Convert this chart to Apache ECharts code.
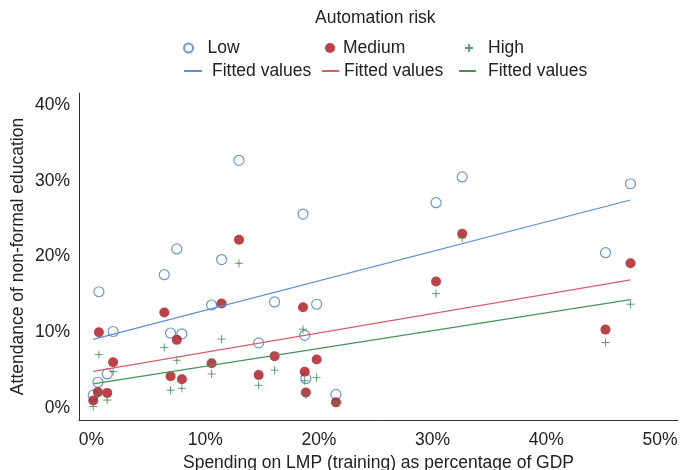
<!DOCTYPE html>
<html>
<head>
<meta charset="utf-8">
<script src="https://cdn.jsdelivr.net/npm/echarts@6/dist/echarts.min.js"></script>
<style>
  html, body { margin: 0; padding: 0; background: #fff; }
  #chart { width: 681px; height: 470px; }
</style>
</head>
<body>
<div id="chart"></div>
<script>
// spending on LMP (training), % of GDP - one value per country
const spending = [0.15, 0.56, 0.65, 1.38, 1.9, 6.4, 6.95, 7.5, 7.95, 10.56, 11.44, 12.97,
    14.7, 16.1, 18.6, 18.75, 18.85, 19.8, 21.5, 30.3, 32.6, 45.2, 47.4];
// attendance of non-formal education, % by automation risk
const lowRisk = [1.7, 3.4, 15.35, 4.5, 10.1, 17.6, 9.9, 21.0, 9.8, 13.6, 19.6, 32.7,
    8.6, 14.0, 25.6, 9.6, 3.9, 13.7, 1.8, 27.1, 30.5, 20.5, 29.6];
const mediumRisk = [1.0, 2.1, 10.0, 2.0, 6.05, 12.6, 4.2, 9.0, 3.8, 5.9, 13.8, 22.2,
    4.35, 6.85, 13.3, 4.8, 2.05, 6.4, 0.75, 16.7, 23.0, 10.35, 19.1];
const highRisk = [0.2, 1.9, 7.05, 1.05, 4.8, 8.0, 2.35, 6.3, 2.6, 4.5, 9.1, 19.1,
    3.0, 5.0, 10.4, 3.6, 1.7, 4.0, 0.7, 15.1, 22.45, 8.65, 13.7];
const xTicks = [0, 10, 20, 30, 40, 50];
const yTicks = [0, 10, 20, 30, 40];

const FONT = 'Liberation Sans, Arial, sans-serif';
const BLUE = '#4580c8';
const RED = '#ab111c';
const GREEN = '#38884a';
const PLUS = 'path://M5 0L5 10M0 5L10 5';

function points(ys) {
    return spending.map((x, i) => [x, ys[i]]);
}

// least squares fitted values, drawn between smallest and largest x
function fitted(ys) {
    const n = spending.length;
    const mx = spending.reduce((a, b) => a + b, 0) / n;
    const my = ys.reduce((a, b) => a + b, 0) / n;
    let sxy = 0, sxx = 0;
    spending.forEach((x, i) => {
        sxy += (x - mx) * (ys[i] - my);
        sxx += (x - mx) * (x - mx);
    });
    const b = sxy / sxx;
    const a = my - b * mx;
    const x0 = Math.min(...spending);
    const x1 = Math.max(...spending);
    return [[x0, a + b * x0], [x1, a + b * x1]];
}

function legendItem(name, left, top, w, h, pad) {
    const isFit = name.indexOf('fit') === 0;
    const item = {
        data: [name],
        left: left,
        top: top,
        padding: 0,
        itemWidth: w,
        itemHeight: h,
        selectedMode: false,
        formatter: n => isFit ? 'Fitted values' : n,
        textStyle: {
            fontFamily: FONT,
            fontSize: 17.5,
            color: '#222',
            lineHeight: 20,
            padding: [0, 0, 0, pad]
        }
    };
    if (isFit) {
        item.itemStyle = { opacity: 0 };
    }
    return item;
}

function fitSeries(name, ys, color) {
    return {
        name: name,
        type: 'line',
        symbol: 'none',
        itemStyle: { color: color },
        lineStyle: { color: color, width: 1.2 },
        data: fitted(ys)
    };
}

const chart = echarts.init(document.getElementById('chart'));
chart.setOption({
    animation: false,
    title: {
        text: 'Automation risk',
        left: 310,
        top: 4,
        textStyle: { fontFamily: FONT, fontSize: 17.5, fontWeight: 'normal', color: '#222' }
    },
    legend: [
        legendItem('Low', 183, 38, 18, 9, 5),
        legendItem('Medium', 325, 38, 10, 10, 3),
        legendItem('High', 464, 38, 8, 8, 10),
        legendItem('fitLow', 183, 61, 18, 8, 5),
        legendItem('fitMedium', 321, 61, 17, 8, 0),
        legendItem('fitHigh', 458, 61, 17, 8, 7)
    ],
    grid: { left: 79, right: 3, top: 93, bottom: 50, outerBoundsMode: 'none' },
    xAxis: {
        type: 'value',
        min: -1.1,
        max: 51.58,
        name: 'Spending on LMP (training) as percentage of GDP',
        nameLocation: 'middle',
        nameGap: 34,
        nameMoveOverlap: false,
        nameTextStyle: { fontFamily: FONT, fontSize: 17.5, color: '#222' },
        axisLine: { onZero: false, lineStyle: { color: '#333', width: 1 } },
        axisTick: { show: false },
        splitLine: { show: false },
        axisLabel: {
            customValues: xTicks,
            formatter: v => v + '%',
            margin: 11,
            fontFamily: FONT,
            fontSize: 17.5,
            color: '#222'
        }
    },
    yAxis: {
        type: 'value',
        min: -1.58,
        max: 41.58,
        name: 'Attendance of non-formal education',
        nameLocation: 'middle',
        nameGap: 52,
        nameMoveOverlap: false,
        nameTextStyle: { fontFamily: FONT, fontSize: 17.5, color: '#222' },
        axisLine: { show: true, onZero: false, lineStyle: { color: '#333', width: 1 } },
        axisTick: { show: false },
        splitLine: { show: false },
        axisLabel: {
            customValues: yTicks,
            formatter: v => v + '%',
            margin: 9,
            fontFamily: FONT,
            fontSize: 17.5,
            color: '#222'
        }
    },
    series: [{
        name: 'Low',
        type: 'scatter',
        symbol: 'circle',
        symbolSize: 10,
        itemStyle: { color: 'rgba(255,255,255,0)', borderColor: BLUE, borderWidth: 1.2 },
        data: points(lowRisk)
    }, {
        name: 'Medium',
        type: 'scatter',
        symbol: 'circle',
        symbolSize: 10,
        itemStyle: { color: RED },
        data: points(mediumRisk)
    }, {
        name: 'High',
        type: 'scatter',
        symbol: PLUS,
        symbolSize: 8,
        itemStyle: { color: 'rgba(0,0,0,0)', borderColor: GREEN, borderWidth: 1 },
        data: points(highRisk)
    },
    fitSeries('fitLow', lowRisk, '#5b8fd0'),
    fitSeries('fitMedium', mediumRisk, '#d65f6c'),
    fitSeries('fitHigh', highRisk, '#469457')]
});
</script>
</body>
</html>
